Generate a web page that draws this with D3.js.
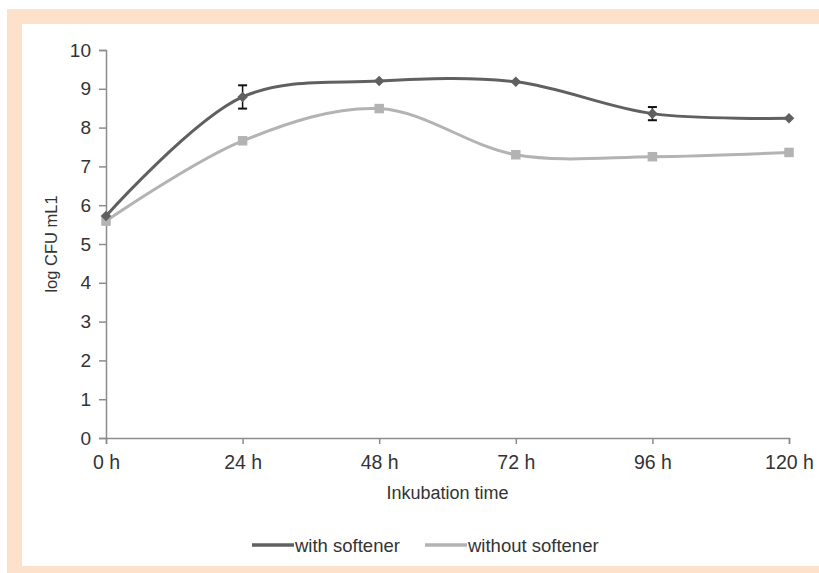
<!DOCTYPE html>
<html>
<head>
<meta charset="utf-8">
<script src="https://cdn.jsdelivr.net/npm/d3@7"></script>
<style>
  body { margin: 0; background: #fff; }
  svg { display: block; font-family: "Liberation Sans", Arial, sans-serif; }
</style>
</head>
<body>
<svg id="chart" width="819" height="573"></svg>
<script>
// data
const hours = [0, 24, 48, 72, 96, 120];
const tickLabels = ['0 h', '24 h', '48 h', '72 h', '96 h', '120 h'];
const withSoftener = [5.72, 8.79, 9.2, 9.18, 8.36, 8.24];
const withSoftenerErr = [0, 0.3, 0, 0, 0.17, 0];
const withoutSoftener = [5.59, 7.66, 8.49, 7.3, 7.25, 7.36];

const svg = d3.select('#chart');
const darkColor = '#606060';
const lightColor = '#b3b3b3';
const axisColor = '#8c8c8c';
const textColor = '#333';
const fontFam = '"Liberation Sans", Arial, sans-serif';

// frame
const peach = '#fde1cb';
svg.append('rect').attr('x', 7).attr('y', 9).attr('width', 812).attr('height', 564).attr('fill', peach);
svg.append('rect').attr('x', 22).attr('y', 24).attr('width', 797).attr('height', 542).attr('fill', '#fff');

const x = d3.scaleLinear().domain([0, 120]).range([106, 789]);
const y = d3.scaleLinear().domain([0, 10]).range([438, 50]);

// y axis
const yAxis = svg.append('g')
  .attr('transform', `translate(${x(0)},0)`)
  .call(d3.axisLeft(y).ticks(10).tickSize(7).tickPadding(8).tickFormat(d3.format('d')));
yAxis.select('.domain').attr('stroke', axisColor).attr('stroke-width', 1.5);
yAxis.selectAll('.tick line').attr('stroke', axisColor).attr('stroke-width', 1.5);
yAxis.selectAll('.tick text').attr('fill', textColor).style('font-size', '19px').style('font-family', fontFam);

// x axis
const xAxis = svg.append('g')
  .attr('transform', `translate(0,${y(0)})`)
  .call(d3.axisBottom(x).tickValues(hours).tickSize(6).tickPadding(11)
    .tickFormat((d, i) => tickLabels[i]));
xAxis.select('.domain').attr('stroke', axisColor).attr('stroke-width', 1.5);
xAxis.selectAll('.tick line').attr('stroke', axisColor).attr('stroke-width', 1.5);
xAxis.selectAll('.tick text').attr('fill', textColor).style('font-size', '19.5px').style('font-family', fontFam);

// axis titles
svg.append('text')
  .attr('x', (x(0) + x(120)) / 2).attr('y', 499)
  .attr('text-anchor', 'middle').attr('fill', textColor)
  .style('font-size', '18px').text('Inkubation time');
svg.append('text')
  .attr('transform', `translate(57,${y(5)}) rotate(-90)`)
  .attr('text-anchor', 'middle').attr('fill', textColor)
  .style('font-size', '16.5px').text('log CFU mL1');

// lines
const line = d3.line()
  .x((d, i) => x(hours[i]))
  .y(d => y(d))
  .curve(d3.curveCatmullRom.alpha(0.5));

svg.append('path').datum(withoutSoftener)
  .attr('d', line).attr('fill', 'none')
  .attr('stroke', lightColor).attr('stroke-width', 3);
svg.append('path').datum(withSoftener)
  .attr('d', line).attr('fill', 'none')
  .attr('stroke', darkColor).attr('stroke-width', 3);

// markers
const square = d3.symbol().type(d3.symbolSquare).size(90);
const diamond = d3.symbol().type(d3.symbolSquare).size(56);

svg.selectAll('.m-without').data(withoutSoftener).join('path')
  .attr('class', 'm-without')
  .attr('transform', (d, i) => `translate(${x(hours[i])},${y(d)})`)
  .attr('d', square).attr('fill', lightColor);

// error bars (drawn under the diamonds)
const errs = withSoftener.map((v, i) => ({ h: hours[i], v, e: withSoftenerErr[i] })).filter(d => d.e > 0);
const eb = svg.selectAll('.err').data(errs).join('g').attr('class', 'err');
eb.append('line')
  .attr('x1', d => x(d.h)).attr('x2', d => x(d.h))
  .attr('y1', d => y(d.v + d.e)).attr('y2', d => y(d.v - d.e))
  .attr('stroke', '#111').attr('stroke-width', 1.5);
eb.append('line')
  .attr('x1', d => x(d.h) - 4.5).attr('x2', d => x(d.h) + 4.5)
  .attr('y1', d => y(d.v + d.e)).attr('y2', d => y(d.v + d.e))
  .attr('stroke', '#111').attr('stroke-width', 2);
eb.append('line')
  .attr('x1', d => x(d.h) - 4.5).attr('x2', d => x(d.h) + 4.5)
  .attr('y1', d => y(d.v - d.e)).attr('y2', d => y(d.v - d.e))
  .attr('stroke', '#111').attr('stroke-width', 2);

svg.selectAll('.m-with').data(withSoftener).join('path')
  .attr('class', 'm-with')
  .attr('transform', (d, i) => `translate(${x(hours[i])},${y(d)}) rotate(45)`)
  .attr('d', diamond).attr('fill', darkColor);

// legend
const legendItems = [
  { label: 'with softener', color: darkColor, sym: diamond, rot: 45, x0: 252 },
  { label: 'without softener', color: lightColor, sym: square, rot: 0, x0: 425 }
];
const lg = svg.selectAll('.legend').data(legendItems).join('g')
  .attr('class', 'legend')
  .attr('transform', d => `translate(${d.x0},545)`);
lg.append('line').attr('x1', 0).attr('x2', 42).attr('y1', 0).attr('y2', 0)
  .attr('stroke', d => d.color).attr('stroke-width', 3.5);
lg.append('path').attr('transform', d => `translate(21,0) rotate(${d.rot})`)
  .attr('d', d => d.sym).attr('fill', d => d.color);
lg.append('text').attr('x', 43).attr('y', 6.5)
  .attr('fill', textColor).style('font-size', '18.5px')
  .text(d => d.label);
</script>
</body>
</html>
